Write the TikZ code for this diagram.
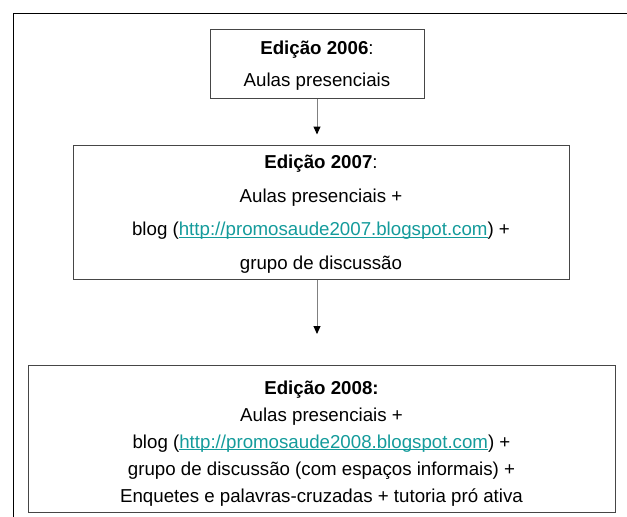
\documentclass[tikz,border=0pt]{standalone}
\usepackage{fontspec}
\setmainfont{Liberation Sans}
\usetikzlibrary{arrows.meta, positioning}
\definecolor{linkteal}{RGB}{20,155,155}
\definecolor{boxgray}{RGB}{70,70,70}
\newcommand{\lnk}[1]{\textcolor{linkteal}{\setbox0\hbox{#1}\rlap{\rule[-2.2pt]{\wd0}{0.9pt}}\box0}}

\begin{document}
\begin{tikzpicture}[x=1pt, y=-1pt, >={Triangle[length=8pt, width=7pt, color=black]},
  edbox/.style={rectangle, draw=boxgray, line width=1pt, align=center, inner sep=0pt}]
\useasboundingbox (0,0) rectangle (627,517);
\draw[line width=1pt] (13,517) -- (13,13) -- (627,13);

\node (e06) [edbox, minimum width=214pt, minimum height=69pt, font=\fontsize{18.7}{32}\selectfont] at (317,63.5)
  {\rule{0pt}{18pt}\textbf{Edição 2006}:\\ Aulas presenciais};
\node (e07) [edbox, minimum width=496pt, minimum height=134pt, font=\fontsize{18.7}{33.5}\selectfont] at (321,212)
  {\rule{0pt}{18pt}\textbf{Edição 2007}:\\ Aulas presenciais +\\
   blog (\lnk{http://promosaude2007.blogspot.com}) +\\ grupo de discussão};
\node (e08) [edbox, minimum width=587pt, minimum height=147pt, font=\fontsize{18.7}{27}\selectfont] at (321.5,439)
  {\rule{0pt}{22pt}\textbf{Edição 2008:}\\ Aulas presenciais +\\
   blog (\lnk{http://promosaude2008.blogspot.com}) +\\
   grupo de discussão (com espaços informais) +\\
   Enquetes e palavras-cruzadas + tutoria pró ativa};

\draw[->, gray, line width=1pt, shorten >=10pt] (e06.south) -- (e06.south |- e07.north);
\draw[->, gray, line width=1pt, shorten >=31pt] (e07.south -| e06.south) -- (e06.south |- e08.north);
\end{tikzpicture}
\end{document}
